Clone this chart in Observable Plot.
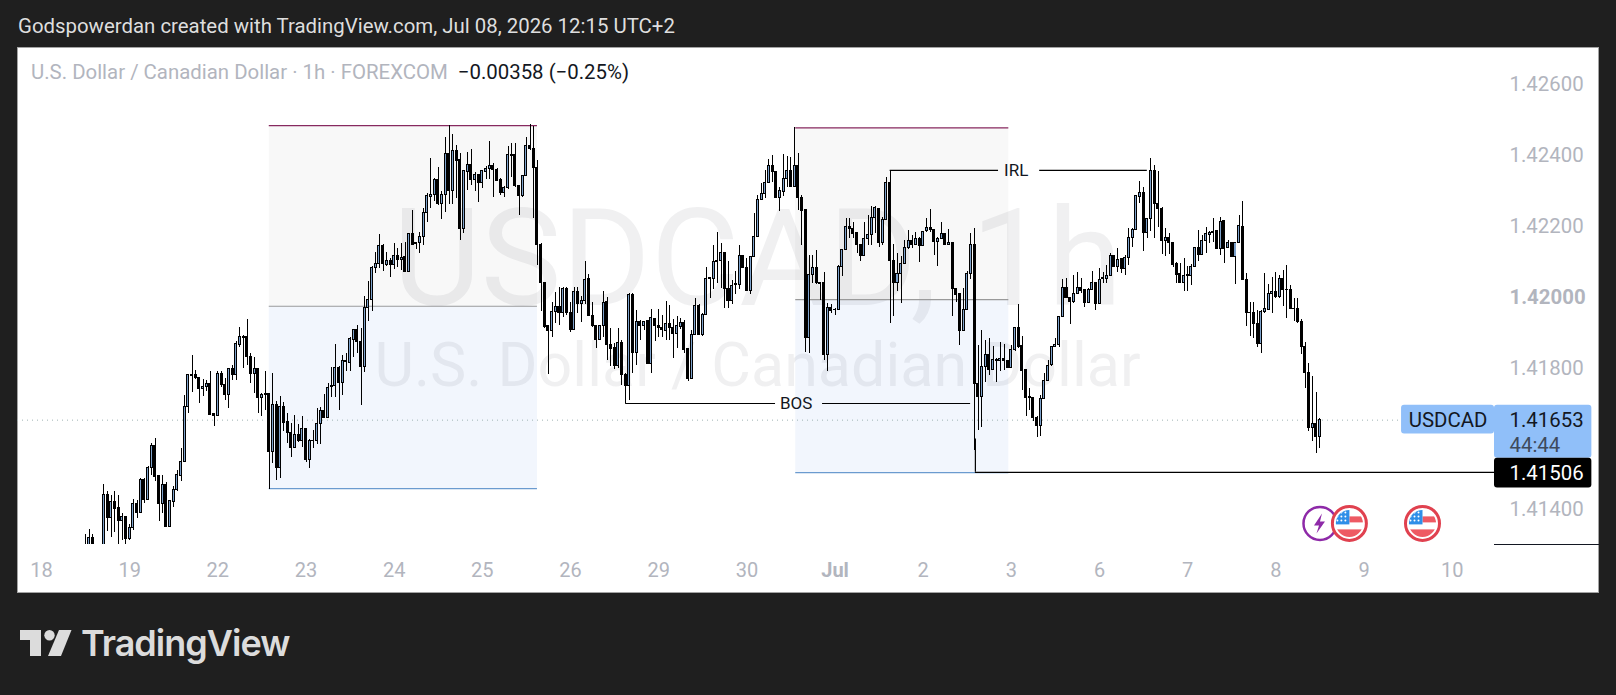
<!DOCTYPE html>
<html><head><meta charset="utf-8">
<script src="https://cdn.jsdelivr.net/npm/d3@7"></script>
<script src="https://cdn.jsdelivr.net/npm/@observablehq/plot@0.6"></script>
<style>
html,body{margin:0;padding:0;width:1616px;height:695px;overflow:hidden;background:#1f1f1f;font-family:Roboto,sans-serif}
.abs{position:absolute;white-space:nowrap}
#panel{left:17px;top:47px;width:1582px;height:546px;background:#fff;box-shadow:inset 0 0 0 1px #a3a3a3}
#panel svg{position:absolute;left:0;top:0;overflow:visible}
</style></head><body>
<div class="abs" style="left:18px;top:14px;font-size:20.4px;line-height:24px;color:#dedede">Godspowerdan created with TradingView.com, Jul 08, 2026 12:15 UTC+2</div>
<div class="abs" id="panel"></div>
<div class="abs" style="left:1494px;top:544px;width:105px;height:1px;background:#131722"></div>
<svg class="abs" style="left:20px;top:630px" width="52" height="27" viewBox="0 0 52 27"><path fill="#dcdcdc" d="M0 0H21V26H10V10H0Z"/><circle fill="#dcdcdc" cx="29.5" cy="5.2" r="5.2"/><path fill="#dcdcdc" d="M39 0H51.5L41 26H28Z"/></svg>
<div class="abs" style="left:81px;top:621px;font-family:Inter,sans-serif;font-weight:600;font-size:36px;line-height:44px;letter-spacing:-1px;color:#dcdcdc">TradingView</div>
<script>
// All prices are stored in units of 0.00001 above this base
const priceBase = 1.41;
const firstBar = 12;           // hourly bar number of the first candle (24 bars per day from "18")
const opens = [
277,277,322,280,270,277,441,376,421,404,370,379,319,348,418,390,483,429,519,580,
495,416,470,352,423,457,496,535,689,780,780,772,742,747,756,669,664,782,753,724,
798,780,865,888,887,832,782,798,716,726,726,563,697,517,689,647,618,575,610,593,
627,540,594,595,641,680,660,747,749,801,758,820,815,880,908,874,803,970,993,1083,
1094,1145,1090,1102,1091,1117,1104,1112,1071,1179,1152,1152,1169,1238,1282,1288,1331,1261,1289,1402,
1299,1412,1385,1191,1352,1373,1331,1345,1321,1352,1361,1370,1359,1329,1293,1307,1399,1399,1314,1284,
1342,1427,1418,1364,1148,1040,917,904,958,973,956,1023,956,906,1015,980,990,1050,947,919,
879,917,986,866,856,806,871,781,750,1005,842,929,918,932,811,939,919,912,904,925,
914,897,916,928,853,769,894,976,893,950,1050,1050,1100,1101,1125,1024,989,1034,1034,1117,
1083,1017,1113,1169,1274,1291,1322,1370,1353,1279,1296,1333,1356,1310,1368,1280,1244,885,1063,1083,
1040,1039,837,969,963,963,1086,1133,1198,1193,1180,1148,1117,1164,1176,1224,1249,1153,1218,1322,
1102,1039,1064,1094,1137,1158,1148,1165,1145,1185,1194,1190,1155,1164,1178,1146,1153,1024,1008,904,
963,1066,1146,756,718,803,838,794,819,821,826,821,800,852,914,861,793,717,716,660,
637,714,764,808,859,864,944,1026,998,986,1009,1026,1019,984,1019,1040,981,1051,1051,1060,
1115,1085,1106,1079,1111,1166,1190,1282,1294,1180,1221,1356,1263,1249,1158,1167,1153,1092,1064,1040,
1059,1059,1085,1137,1118,1158,1176,1184,1185,1135,1213,1139,1151,1113,1152,1198,1049,955,956,925,
868,959,963,1008,1015,1000,1052,1021,1021,967,967,931,859,787,631,643,606];
const closes = [
296,322,291,270,285,441,376,421,402,370,379,318,348,418,390,483,428,519,580,493,
418,470,352,424,457,497,536,689,780,778,772,742,747,756,668,665,782,752,723,798,
780,867,888,885,831,782,798,716,725,725,563,697,517,689,645,617,575,610,593,627,
540,593,595,641,680,658,745,749,801,758,820,816,881,908,874,803,970,993,1083,1094,
1145,1092,1102,1091,1117,1104,1111,1071,1179,1148,1149,1170,1238,1284,1288,1331,1261,1288,1402,1298,
1412,1383,1191,1354,1373,1330,1345,1321,1354,1362,1370,1357,1327,1293,1308,1399,1397,1312,1284,1342,
1426,1416,1363,1147,1039,915,904,959,973,956,1023,956,906,1015,980,990,1049,947,917,879,
917,984,865,854,806,871,781,749,1005,842,929,919,931,811,940,917,912,908,925,914,
897,917,928,850,769,894,976,893,950,1052,1053,1100,1102,1125,1024,989,1032,1036,1117,1083,
1017,1113,1169,1274,1291,1322,1370,1353,1279,1298,1333,1356,1310,1368,1279,1243,885,1063,1083,1039,
1038,837,969,962,964,1086,1133,1197,1193,1179,1146,1117,1164,1176,1224,1251,1153,1218,1322,1102,
1039,1064,1094,1137,1158,1148,1164,1144,1183,1194,1188,1155,1164,1178,1146,1153,1024,1006,904,964,
1066,1146,756,718,803,838,794,823,823,826,819,800,852,914,859,792,715,715,658,637,
714,764,807,858,866,944,1026,997,986,1009,1026,1017,984,1019,1040,981,1049,1053,1060,1115,
1085,1105,1079,1111,1166,1190,1284,1294,1180,1221,1356,1263,1248,1158,1167,1152,1089,1063,1040,1060,
1061,1086,1137,1118,1159,1177,1181,1180,1135,1212,1135,1151,1113,1152,1199,1049,955,956,925,867,
959,965,1009,1015,1000,1052,1020,1020,966,966,931,859,787,631,643,606,653];
const highs = [
331,345,331,290,295,473,453,440,452,440,390,381,360,429,426,488,488,523,587,602,
498,498,476,427,465,512,573,723,783,836,792,772,767,765,791,669,791,789,770,800,
808,874,914,892,937,841,831,798,728,789,727,784,706,720,702,672,643,667,641,662,
627,598,625,686,690,726,756,801,866,803,836,842,885,909,920,911,1002,1044,1085,1125,
1177,1148,1125,1108,1150,1136,1150,1155,1180,1244,1152,1183,1249,1291,1390,1333,1364,1298,1451,1484,
1458,1427,1404,1357,1407,1415,1352,1345,1357,1368,1438,1376,1362,1333,1312,1425,1432,1432,1314,1343,
1451,1486,1481,1385,1150,1042,917,986,1014,1026,1028,1028,986,1028,1028,1002,1101,1064,986,921,
917,1016,1000,911,869,911,878,784,1009,1009,962,934,931,932,964,939,965,948,987,975,
936,944,939,934,854,906,995,978,953,1083,1053,1144,1181,1150,1125,1101,1047,1071,1146,1117,
1108,1113,1235,1286,1319,1357,1387,1399,1355,1308,1402,1396,1394,1478,1404,1286,1244,1117,1117,1130,
1042,1068,981,979,969,1089,1133,1221,1221,1211,1180,1148,1209,1230,1255,1255,1249,1225,1338,1357,
1147,1122,1113,1160,1188,1174,1183,1169,1186,1221,1246,1191,1167,1209,1178,1190,1153,1024,1009,1024,
1073,1178,1193,864,906,878,883,861,826,873,867,822,864,915,979,889,793,742,718,662,
723,784,822,859,883,944,1050,1052,998,1061,1070,1052,1021,1023,1073,1041,1080,1070,1089,1124,
1117,1136,1108,1117,1193,1193,1286,1326,1310,1221,1390,1371,1355,1252,1193,1180,1153,1096,1094,1108,
1085,1092,1139,1188,1174,1195,1185,1222,1186,1225,1214,1160,1155,1154,1230,1268,1066,986,984,962,
961,1066,1036,1056,1070,1061,1075,1089,1033,995,995,936,873,812,777,732,657];
const lows = [
258,268,268,260,262,268,340,322,336,300,315,300,315,343,376,390,418,427,498,481,
366,390,352,352,406,451,479,535,673,730,768,701,720,735,668,636,664,745,709,685,
765,764,857,798,806,756,728,673,662,681,457,531,482,488,620,587,547,573,589,575,
533,516,573,585,585,658,660,717,717,681,723,789,789,831,841,695,787,930,958,1066,
1080,1073,1087,1056,1078,1082,1075,1069,1068,1146,1133,1124,1144,1211,1249,1268,1258,1219,1239,1261,
1261,1277,1160,1180,1301,1315,1298,1267,1306,1332,1332,1280,1327,1286,1280,1303,1338,1310,1230,1280,
1340,1413,1220,1089,958,911,781,887,925,920,942,948,899,906,955,929,979,944,914,856,
877,887,820,803,795,798,751,700,709,784,808,878,906,810,784,876,887,885,878,878,
826,855,908,842,761,769,892,893,890,950,995,1021,1038,1024,967,967,979,1008,1021,1080,
1017,1008,1113,1167,1272,1277,1319,1324,1277,1242,1284,1308,1308,1308,1244,1146,845,840,1039,1036,
991,820,789,953,947,962,1059,1131,1164,1164,1124,1099,1116,1146,1146,1180,1141,1146,1216,925,
944,1017,983,1092,1135,1136,1146,1097,1144,1183,1183,1117,1087,1162,1146,1144,944,986,864,902,
962,1049,568,623,632,759,779,792,758,789,793,798,798,847,854,737,664,681,648,604,
608,712,762,805,859,859,944,997,923,981,1009,1009,970,982,1019,961,979,1039,1038,1058,
1082,1070,1066,1060,1089,1141,1188,1265,1129,1164,1185,1164,1197,1120,1113,1120,1083,1038,1040,1017,
1017,1033,1085,1099,1116,1124,1150,1155,1135,1116,1094,1136,1113,1034,1152,1047,918,889,883,857,
842,953,962,955,997,997,972,939,964,932,925,839,742,620,592,559,573];

const dayLabels = ["18","19","22","23","24","25","26","29","30","Jul","2","3","6","7","8","9","10"];
const priceTicks = [1.426,1.424,1.422,1.418,1.414];
const boldPriceTick = [1.42];
const barsPerDay = 24;

const p = v => priceBase + v/1e5;
const candles = opens.map((o,k)=>({i:k+firstBar,o:p(o),c:p(closes[k]),h:p(highs[k]),l:p(lows[k])}));

// Rectangle zones: bar range and top / middle / bottom price
const zones = [
 {a:62,b:135,top:1483,mid:974,bot:460},
 {a:205.3,b:263.3,top:1477,mid:993,bot:505}
];
const lastPrice = 1.41653, slPrice = 1.41506;
const bosPrice = p(700), irlPrice = p(1357);

const outerHalf = 0.41, innerHalf = 0.14;   // half body width, in bars
const xmin=-6.53, xmax=395.5;
const greyTick="#b2b5be", ink="#131722";
const xTicks = dayLabels.map((d,i)=>i*barsPerDay);
const stars = [7,11,15].flatMap(x=>[8,12,16].map(y=>`<circle cx='${x}' cy='${y}' r='1' fill='#fff'/>`)).join("");
const flag = `<svg xmlns='http://www.w3.org/2000/svg' viewBox='0 0 38 38'><defs><clipPath id='c'><circle cx='19' cy='19' r='13.5'/></clipPath></defs><circle cx='19' cy='19' r='17' fill='#fff' stroke='#e0414f' stroke-width='3'/><g clip-path='url(#c)'><rect width='38' height='38' fill='#fff'/><rect y='12' x='19' width='20' height='6' fill='#ee5a63'/><rect y='25' width='38' height='10' fill='#ee5a63'/><rect x='3' y='4' width='16' height='16' fill='#2f8fe8'/>${stars}</g></svg>`;
const bolt = `<svg xmlns='http://www.w3.org/2000/svg' viewBox='0 0 38 38'><circle cx='19' cy='19' r='16.5' fill='#fff' stroke='#8e2aa8' stroke-width='2.5'/><path d='M21 9L13 21H18L15.5 29L24 17H19Z' fill='#8e2aa8'/></svg>`;
const uri = s => "data:image/svg+xml;utf8,"+encodeURIComponent(s);

const chart = Plot.plot({
  width:1582, height:545,
  marginLeft:0, marginRight:105, marginTop:0, marginBottom:48,
  style:{fontFamily:"Roboto, sans-serif",background:"transparent",overflow:"visible"},
  x:{domain:[xmin,xmax]},
  y:{domain:[1.413025,1.427034]},
  marks:[
    Plot.rect(zones,{x1:"a",x2:"b",y1:d=>p(d.mid),y2:d=>p(d.top),fill:"#f8f8f8"}),
    Plot.rect(zones,{x1:"a",x2:"b",y1:d=>p(d.bot),y2:d=>p(d.mid),fill:"#f2f6fd"}),
    Plot.text(["USDCAD, 1h"],{text:d=>d,frameAnchor:"top-left",dx:740,dy:161,fontSize:136,textAnchor:"middle",fill:"rgba(42,46,57,0.07)"}),
    Plot.text(["U.S. Dollar / Canadian Dollar"],{text:d=>d,frameAnchor:"top-left",dx:740,dy:295,fontSize:61,textAnchor:"middle",fill:"rgba(42,46,57,0.07)"}),
    Plot.ruleY(zones,{y:d=>p(d.top),x1:"a",x2:"b",stroke:"#87295f",strokeWidth:1.2}),
    Plot.ruleY(zones,{y:d=>p(d.mid),x1:"a",x2:"b",stroke:"#9a9a9a",strokeWidth:1.2}),
    Plot.ruleY(zones,{y:d=>p(d.bot),x1:"a",x2:"b",stroke:"#6b9bcf",strokeWidth:1.2}),
    Plot.ruleY([lastPrice],{x1:xmin,x2:370,stroke:"#9fb3b3",strokeWidth:1,strokeDasharray:"1 4"}),
    // candles: black wick and 3px black body, with a 1px blue core on rising bars
    Plot.ruleX(candles,{x:"i",y1:"l",y2:"h",stroke:"#000",strokeWidth:1,clip:true,shapeRendering:"crispEdges"}),
    Plot.rect(candles,{x1:d=>d.i-outerHalf,x2:d=>d.i+outerHalf,y1:"o",y2:"c",insetTop:-0.5,insetBottom:-0.5,fill:"#000",clip:true,shapeRendering:"crispEdges"}),
    Plot.rect(candles.filter(d=>d.c>=d.o),{x1:d=>d.i-innerHalf,x2:d=>d.i+innerHalf,y1:"o",y2:"c",insetTop:0.5,insetBottom:0.5,fill:"#7da2cc",clip:true,shapeRendering:"crispEdges"}),
    // annotations
    Plot.ruleY([bosPrice],{x1:159,x2:199.8,stroke:"#000",strokeWidth:1.2}),
    Plot.ruleY([bosPrice],{x1:212.6,x2:252.9,stroke:"#000",strokeWidth:1.2}),
    Plot.text(["BOS"],{x:205.4,y:bosPrice,text:d=>d,fontSize:17,fill:ink}),
    Plot.ruleY([irlPrice],{x1:231,x2:260.5,stroke:"#000",strokeWidth:1.2}),
    Plot.ruleY([irlPrice],{x1:271.7,x2:301,stroke:"#000",strokeWidth:1.2}),
    Plot.text(["IRL"],{x:265.3,y:irlPrice,text:d=>d,fontSize:17,fill:ink}),
    Plot.ruleY([slPrice],{x1:254.2,x2:xmax,stroke:"#000",strokeWidth:1.2}),
    Plot.ruleX([254.2],{y1:slPrice,y2:p(600),stroke:"#000",strokeWidth:1.2}),
    // event icons
    Plot.image([{x:348,s:bolt},{x:356,s:flag},{x:375.9,s:flag}],{x:"x",y:p(362),src:d=>uri(d.s),width:38,height:38}),
    // axes
    Plot.axisY(priceTicks,{anchor:"right",tickSize:0,tickPadding:15,fontSize:20.4,color:greyTick,tickFormat:d3.format(".5f"),label:null}),
    Plot.axisY(boldPriceTick,{anchor:"right",tickSize:0,tickPadding:15,fontSize:20.4,fontWeight:"bold",color:greyTick,tickFormat:d3.format(".5f"),label:null}),
    Plot.axisX(xTicks.filter((d,i)=>dayLabels[i]!=="Jul"),{anchor:"bottom",tickSize:0,tickPadding:18,fontSize:20,color:greyTick,tickFormat:d=>dayLabels[d/barsPerDay],label:null}),
    Plot.axisX(xTicks.filter((d,i)=>dayLabels[i]==="Jul"),{anchor:"bottom",tickSize:0,tickPadding:18,fontSize:20,fontWeight:"bold",color:greyTick,tickFormat:d=>dayLabels[d/barsPerDay],label:null}),
    // price tags
    Plot.rect([0],{x1:370.2,x2:395.5,y1:p(614),y2:p(695),fill:"#90bff9",rx:3}),
    Plot.rect([0],{x1:395.5,x2:422,y1:p(545.5),y2:p(695),fill:"#90bff9",rx:3}),
    Plot.rect([0],{x1:395.5,x2:422,y1:p(462),y2:p(545.5),fill:"#000",rx:3}),
    Plot.text(["USDCAD"],{x:382.85,y:lastPrice,text:d=>d,fontSize:20.4,fill:ink}),
    Plot.text([lastPrice],{x:xmax,y:lastPrice,dx:15,text:d=>d.toFixed(5),textAnchor:"start",fontSize:20.4,fill:ink}),
    Plot.text(["44:44"],{x:xmax,y:lastPrice,dx:15,dy:25,text:d=>d,textAnchor:"start",fontSize:20.4,fill:"#3e4a5c"}),
    Plot.text([slPrice],{x:xmax,y:slPrice,dx:15,dy:1,text:d=>d.toFixed(5),textAnchor:"start",fontSize:20.4,fill:"#fff"})
  ]
});
const panel=document.getElementById("panel");
panel.appendChild(chart);
const legend=document.createElement("div");
legend.className="abs";
legend.style.cssText="left:14px;top:13px;font-size:20.4px;line-height:24px;color:#b2b5be";
legend.innerHTML='U.S. Dollar / Canadian Dollar · 1h · FOREXCOM<span style="color:#131722;margin-left:10px">−0.00358 (−0.25%)</span>';
panel.appendChild(legend);
</script>
</body></html>
